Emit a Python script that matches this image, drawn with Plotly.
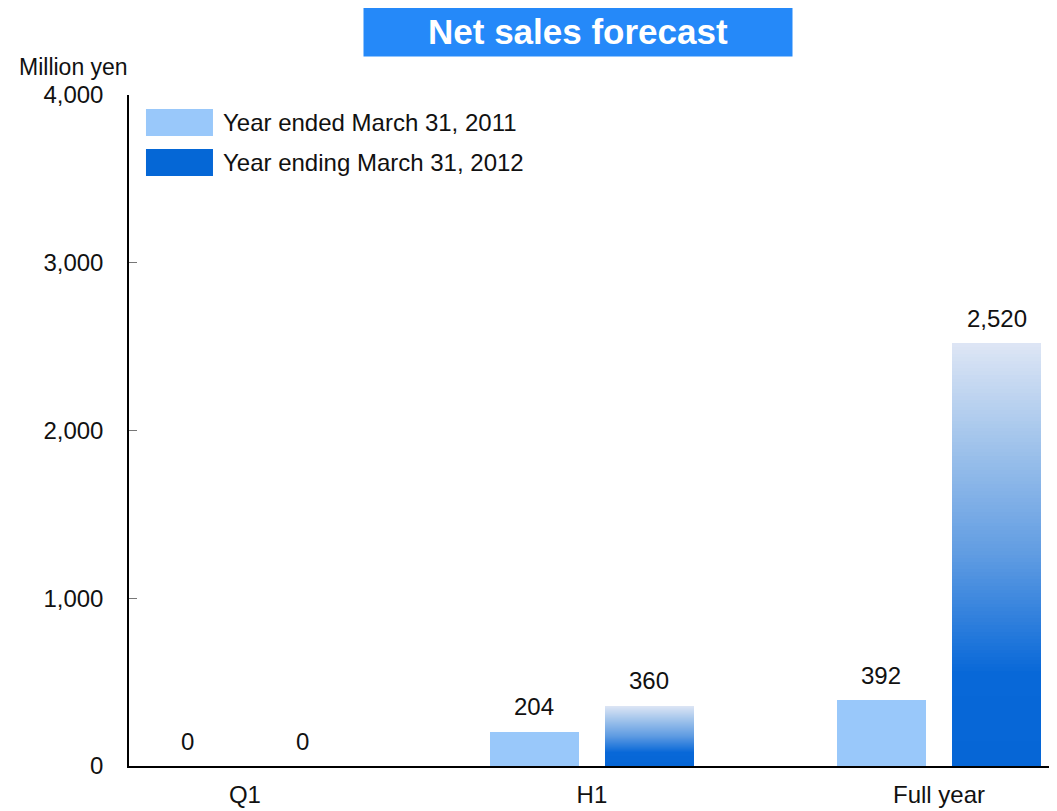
import plotly.graph_objects as go

categories = ["Q1", "H1", "Full year"]
series_2011 = [0, 204, 392]
series_2012 = [0, 360, 2520]
series_names = ["Year ended March 31, 2011", "Year ending March 31, 2012"]
y_ticks = [0, 1000, 2000, 3000, 4000]
y_tick_labels = ["0", "1,000", "2,000", "3,000", "4,000"]

LIGHT = "#99c8fa"
DARK = "#0567d6"
FONT = "Liberation Sans, Arial, sans-serif"

# gradient stops (fraction of bar height -> rgb)
stops = [(0.0, (6, 102, 214)), (0.22, (8, 104, 216)), (0.5, (96, 156, 226)),
         (0.78, (165, 198, 236)), (1.0, (222, 230, 245))]


def grad(t):
    for (t0, c0), (t1, c1) in zip(stops[:-1], stops[1:]):
        if t <= t1:
            f = (t - t0) / (t1 - t0) if t1 > t0 else 0
            return "rgb(%d,%d,%d)" % tuple(round(a + (b - a) * f) for a, b in zip(c0, c1))
    return "rgb(%d,%d,%d)" % stops[-1][1]


xpos = list(range(len(categories)))
W = 0.2565
OFF1 = -0.294
OFF2 = 0.0375

fig = go.Figure()
fig.add_trace(go.Bar(x=xpos, y=series_2011, width=W, offset=OFF1, marker_color=LIGHT,
                     marker_line_width=0, name=series_names[0], showlegend=False))

N = 120
for i in range(N, 0, -1):
    frac = i / N
    fig.add_trace(go.Bar(x=xpos, y=[v * frac for v in series_2012], width=W, offset=OFF2,
                         marker_color=grad(frac - 0.5 / N), marker_line_width=0,
                         name=series_names[1], showlegend=False, hoverinfo="skip"))

annotations = []
for i, v in enumerate(series_2011):
    annotations.append(dict(x=i + OFF1 + W / 2, y=v, xref="x", yref="y", text=f"{v:,}",
                            showarrow=False, yshift=25, font=dict(size=24, color="#111", family=FONT)))
for i, v in enumerate(series_2012):
    annotations.append(dict(x=i + OFF2 + W / 2, y=v, xref="x", yref="y", text=f"{v:,}",
                            showarrow=False, yshift=25, font=dict(size=24, color="#111", family=FONT)))

# title box
annotations.append(dict(x=0.4838, y=1.0954, xref="paper", yref="paper", xanchor="center",
                        yanchor="middle", text="<b>Net sales forecast</b>", showarrow=False,
                        bgcolor="#2589f9", width=426, height=48,
                        font=dict(size=35, color="white", family=FONT)))
# unit label
annotations.append(dict(x=-0.1207, y=1.0417, xref="paper", yref="paper", xanchor="left",
                        yanchor="middle", text="Million yen", showarrow=False,
                        font=dict(size=23, color="#111", family=FONT)))
# legend text
for name, yy in zip(series_names, [0.9583, 0.8987]):
    annotations.append(dict(x=0.0991, y=yy, xref="paper", yref="paper", xanchor="left",
                            yanchor="middle", text=name, showarrow=False,
                            font=dict(size=24, color="#111", family=FONT)))

shapes = [
    dict(type="rect", xref="paper", yref="paper", x0=0.0183, x1=0.0905, y0=0.9389, y1=0.9791,
         fillcolor=LIGHT, line_width=0),
    dict(type="rect", xref="paper", yref="paper", x0=0.0183, x1=0.0905, y0=0.8793, y1=0.9195,
         fillcolor=DARK, line_width=0),
]

fig.update_layout(
    width=1049, height=803,
    margin=dict(l=121, r=0, t=87, b=45),
    paper_bgcolor="white", plot_bgcolor="white",
    barmode="overlay", bargap=0,
    annotations=annotations, shapes=shapes,
    showlegend=False,
    font=dict(family=FONT, color="#111"),
    xaxis=dict(range=[-0.334, 2.34], tickvals=xpos, ticktext=categories, showgrid=False,
               zeroline=False, showline=True, linecolor="black", linewidth=1.5, ticks="",
               tickfont=dict(size=24, family=FONT, color="#111"), ticklabelstandoff=6),
    yaxis=dict(range=[0, 4000], tickvals=y_ticks, ticktext=y_tick_labels, showgrid=False,
               zeroline=False, showline=True, linecolor="black", linewidth=1.5,
               ticks="inside", ticklen=8, tickcolor="#777", tickwidth=1,
               tickfont=dict(size=24, family=FONT, color="#111"), ticklabelstandoff=19),
)

fig.write_html("out.html")
